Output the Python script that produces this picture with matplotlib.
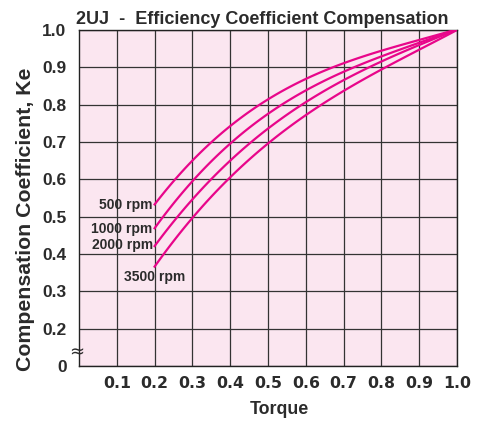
import numpy as np
import matplotlib
matplotlib.use('Agg')
import matplotlib.pyplot as plt

plt.rcParams['font.family'] = ['Liberation Sans', 'DejaVu Sans']

# torque points where the curves were read
torque = [0.2, 0.3, 0.4, 0.5, 0.6, 0.7, 0.8, 0.9, 1.0]
ke_500 = [0.531, 0.651, 0.751, 0.806, 0.868, 0.911, 0.946, 0.976, 1.0]
ke_1000 = [0.467, 0.598, 0.697, 0.777, 0.832, 0.887, 0.933, 0.968, 1.0]
ke_2000 = [0.419, 0.550, 0.651, 0.737, 0.800, 0.866, 0.920, 0.960, 1.0]
ke_3500 = [0.365, 0.500, 0.603, 0.697, 0.772, 0.834, 0.898, 0.946, 1.0]
speeds = ['500 rpm', '1000 rpm', '2000 rpm', '3500 rpm']

x_ticks = [0.1, 0.2, 0.3, 0.4, 0.5, 0.6, 0.7, 0.8, 0.9, 1.0]
x_labels = ['0.1', '0.2', '0.3', '0.4', '0.5', '0.6', '0.7', '0.8', '0.9', '1.0']
# the y axis is broken: the bottom line stands for 0
y_ticks = [0.1, 0.2, 0.3, 0.4, 0.5, 0.6, 0.7, 0.8, 0.9, 1.0]
y_labels = ['0', '0.2', '0.3', '0.4', '0.5', '0.6', '0.7', '0.8', '0.9', '1.0']

text_col = '#2b2b2b'
line_col = '#e8068a'

fig = plt.figure(figsize=(4.78, 4.21), dpi=100)
ax = fig.add_axes([0.1653, 0.1306, 0.7908, 0.7981])
ax.set_facecolor('#fbe6f0')

for curve in [ke_500, ke_1000, ke_2000, ke_3500]:
    # smooth the read points a bit with a polynomial fit through them
    p = np.polyfit(torque, curve, 3)
    xs = np.linspace(0.2, 1.0, 100)
    ax.plot(xs, np.polyval(p, xs), color=line_col, lw=1.6, zorder=3)

ax.set_xlim(0, 1.0)
ax.set_ylim(0.1, 1.0)
ax.set_xticks(x_ticks, x_labels)
ax.set_yticks(y_ticks, y_labels)
ax.tick_params(length=0, colors=text_col)
for lab in ax.get_xticklabels():
    lab.set_fontsize(11.3)
    lab.set_fontweight('bold')
    lab.set_family('DejaVu Sans')
for lab in ax.get_yticklabels():
    lab.set_fontsize(12.5)
    lab.set_fontweight('bold')
ax.tick_params(axis='x', pad=7)
ax.tick_params(axis='y', pad=9)
ax.grid(True, color='#333333', lw=0.9)
ax.set_axisbelow(True)
for s in ax.spines.values():
    s.set_color('#222222')
    s.set_linewidth(1.0)

ax.text(0.195, ke_500[0], speeds[0], ha='right', va='center', fontsize=10, fontweight='bold', color=text_col)
ax.text(0.195, ke_1000[0], speeds[1], ha='right', va='center', fontsize=10, fontweight='bold', color=text_col)
ax.text(0.195, ke_2000[0] + 0.005, speeds[2], ha='right', va='center', fontsize=10, fontweight='bold', color=text_col)
ax.text(0.2, 0.338, speeds[3], ha='center', va='center', fontsize=10, fontweight='bold', color=text_col)

# axis break mark
ax.text(-0.005, 0.137, '≈', ha='center', va='center', fontsize=13,
        color=text_col, clip_on=False, family='DejaVu Sans')

ax.set_title('2UJ  -  Efficiency Coefficient Compensation', fontsize=13, fontweight='bold',
             color=text_col, pad=4, x=0.485)
ax.set_xlabel('Torque', fontsize=12.8, fontweight='bold', color=text_col)
ax.xaxis.set_label_coords(0.529, -0.105)
ax.set_ylabel('Compensation Coefficient, Ke', fontsize=15.3, fontweight='bold', color=text_col)
ax.yaxis.set_label_coords(-0.117, 0.4375)

fig.savefig('out.png', dpi=100)
